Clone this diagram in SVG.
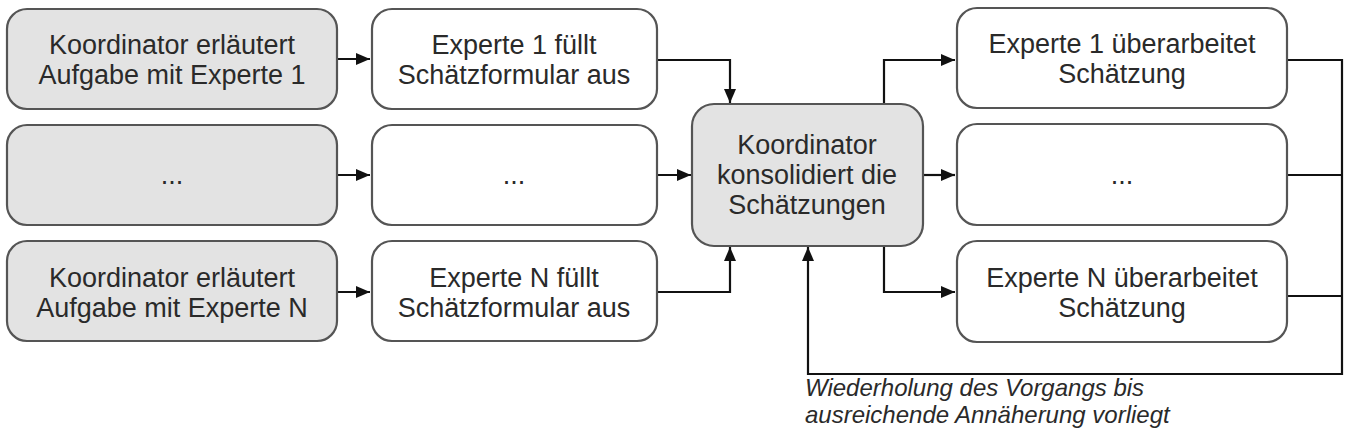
<svg xmlns="http://www.w3.org/2000/svg" width="1363" height="434" viewBox="0 0 1363 434">
<style>
.box{stroke:#555;stroke-width:2.2;}
.g{fill:#e3e3e3;}
.w{fill:#fff;}
.t{font-family:"Liberation Sans",Arial,sans-serif;font-size:27px;fill:#2a2a2a;text-anchor:middle;}
.c{fill:none;stroke:#111;stroke-width:2.2;}
.note{font-family:"Liberation Sans",Arial,sans-serif;font-size:24px;font-style:italic;fill:#2a2a2a;}
</style>
<defs>
<marker id="ah" viewBox="0 0 14 12" refX="14" refY="6" markerWidth="14" markerHeight="12" markerUnits="userSpaceOnUse" orient="auto">
<path d="M0,0 L14,6 L0,12 Z" fill="#111"/>
</marker>
</defs>
<rect width="1363" height="434" fill="#fff"/>
<g id="connectors">
<path class="c" d="M337,59 H370" marker-end="url(#ah)"/>
<path class="c" d="M337,175 H370" marker-end="url(#ah)"/>
<path class="c" d="M337,292 H370" marker-end="url(#ah)"/>
<path class="c" d="M657,60 H730 V103" marker-end="url(#ah)"/>
<path class="c" d="M657,175 H691" marker-end="url(#ah)"/>
<path class="c" d="M657,292 H730 V247" marker-end="url(#ah)"/>
<path class="c" d="M884,104 V60 H955" marker-end="url(#ah)"/>
<path class="c" d="M923,175 H955" marker-end="url(#ah)"/>
<path class="c" d="M884,246 V292 H955" marker-end="url(#ah)"/>
<path class="c" d="M1287,60 H1342 V374 H808 V247" marker-end="url(#ah)"/>
<path class="c" d="M1287,175 H1342"/>
<path class="c" d="M1287,296 H1342"/>
</g>
<g id="n1"><rect class="box g" x="7" y="9" width="330" height="100" rx="20"/><text class="t" x="172" y="54">Koordinator erläutert</text><text class="t" x="172" y="84">Aufgabe mit Experte 1</text></g>
<g id="n2"><rect class="box g" x="7" y="125" width="330" height="100" rx="20"/><text class="t" x="172" y="184">...</text></g>
<g id="n3"><rect class="box g" x="7" y="241" width="330" height="100" rx="20"/><text class="t" x="172" y="287">Koordinator erläutert</text><text class="t" x="172" y="317">Aufgabe mit Experte N</text></g>
<g id="n4"><rect class="box w" x="372" y="9" width="285" height="100" rx="20"/><text class="t" x="514" y="54">Experte 1 füllt</text><text class="t" x="514" y="84">Schätzformular aus</text></g>
<g id="n5"><rect class="box w" x="372" y="125" width="285" height="100" rx="20"/><text class="t" x="514" y="184">...</text></g>
<g id="n6"><rect class="box w" x="372" y="241" width="285" height="100" rx="20"/><text class="t" x="514" y="287">Experte N füllt</text><text class="t" x="514" y="317">Schätzformular aus</text></g>
<g id="n7"><rect class="box g" x="692" y="104" width="231" height="142" rx="22"/><text class="t" x="807" y="154">Koordinator</text><text class="t" x="807" y="184">konsolidiert die</text><text class="t" x="807" y="214">Schätzungen</text></g>
<g id="n8"><rect class="box w" x="957" y="8" width="330" height="100" rx="20"/><text class="t" x="1122" y="53">Experte 1 überarbeitet</text><text class="t" x="1122" y="83">Schätzung</text></g>
<g id="n9"><rect class="box w" x="957" y="124" width="330" height="101" rx="20"/><text class="t" x="1122" y="184">...</text></g>
<g id="n10"><rect class="box w" x="957" y="241" width="330" height="101" rx="20"/><text class="t" x="1122" y="287">Experte N überarbeitet</text><text class="t" x="1122" y="317">Schätzung</text></g>
<g id="note"><text class="note" x="805" y="396">Wiederholung des Vorgangs bis</text><text class="note" x="805" y="423">ausreichende Annäherung vorliegt</text></g>
</svg>
